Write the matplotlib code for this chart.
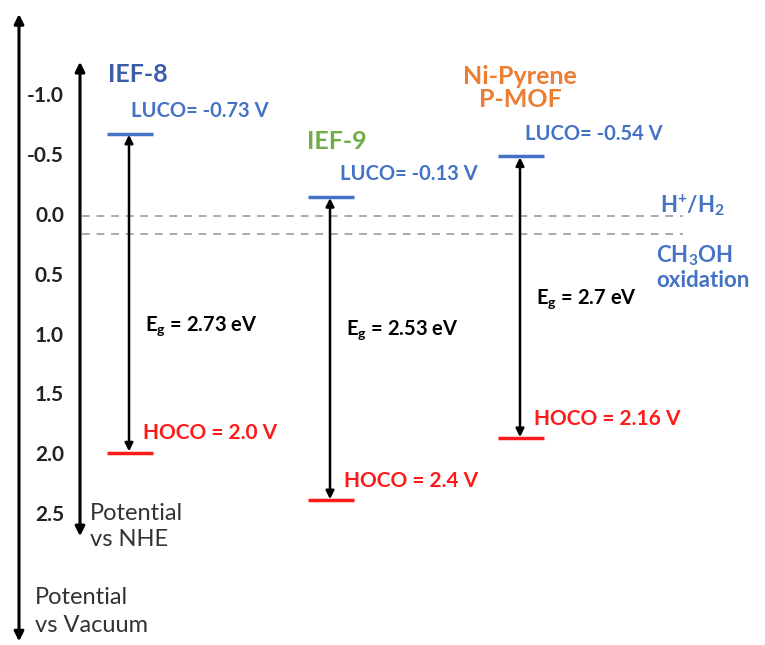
import matplotlib
matplotlib.use("Agg")
import matplotlib.pyplot as plt

plt.rcParams["font.family"] = ["Lato", "DejaVu Sans"]
plt.rcParams["mathtext.default"] = "regular"

# potential axis ticks (V vs NHE)
ticks = [-1.0, -0.5, 0.0, 0.5, 1.0, 1.5, 2.0, 2.5]
tick_labels = ["-1.0", "-0.5", "0.0", "0.5", "1.0", "1.5", "2.0", "2.5"]

# materials and band edges as drawn on the diagram
materials = ["IEF-8", "IEF-9", "Ni-Pyrene\nP-MOF"]
name_colors = ["#3b5ca8", "#70ad47", "#ed7d31"]
luco_drawn = [-0.69, -0.16, -0.50]
hoco_drawn = [1.98, 2.38, 1.86]
luco_labels = ["LUCO= -0.73 V", "LUCO= -0.13 V", "LUCO= -0.54 V"]
hoco_labels = ["HOCO = 2.0 V", "HOCO = 2.4 V", "HOCO = 2.16 V"]
gap_labels = ["E$_g$ = 2.73 eV", "E$_g$ = 2.53 eV", "E$_g$ = 2.7 eV"]
gap_y = [0.92, 0.96, 0.70]

# redox reference levels
ref_levels = [0.0, 0.15]

BLUE = "#4472c4"
RED = "#ff1a1a"

fig = plt.figure(figsize=(7.65, 6.45), dpi=100)
ax = fig.add_axes([0, 0, 1, 1])
ax.set_xlim(0, 765)
# 0 V sits at pixel row 216, 119.5 px per volt
ax.set_ylim((645 - 216) / 119.5, -216 / 119.5)
ax.axis("off")

# outer vacuum axis and inner NHE axis
arrow = dict(arrowstyle="<|-|>", color="black", lw=2.2, mutation_scale=14, shrinkA=0, shrinkB=0)
ax.annotate("", xy=(19, -1.69), xytext=(19, 3.56), arrowprops=arrow)
ax.annotate("", xy=(80, -1.29), xytext=(80, 2.68), arrowprops=arrow)

for t, lab in zip(ticks, tick_labels):
    ax.text(64, t, lab, ha="right", va="center", fontsize=15, fontweight="bold", color="#222222")

ax.text(90, 2.60, "Potential\nvs NHE", ha="left", va="center", fontsize=17,
        color="#333333", linespacing=1.3)
ax.text(35, 3.31, "Potential\nvs Vacuum", ha="left", va="center", fontsize=17,
        color="#333333", linespacing=1.45)

# reference lines
for r in ref_levels:
    ax.plot([82, 683], [r, r], ls=(0, (4, 3.5)), color="#aaaaaa", lw=1.4)
ax.text(660, -0.09, "H$^{+}$/H$_{2}$", ha="left", va="center", fontsize=16,
        fontweight="bold", color=BLUE)
ax.text(656, 0.43, "CH$_{3}$OH\noxidation", ha="left", va="center", fontsize=16,
        fontweight="bold", color=BLUE, linespacing=1.1)

xs = [129, 330, 520]
name_pos = [(108, -1.18, "left"), (307, -0.62, "left"), (520, -1.07, "center")]
luco_x = [131, 340, 525]
for i in range(3):
    x = xs[i]
    ax.plot([x - 22, x + 24], [luco_drawn[i]] * 2, color=BLUE, lw=2.5, solid_capstyle="butt")
    ax.plot([x - 22, x + 24], [hoco_drawn[i]] * 2, color=RED, lw=2.5, solid_capstyle="butt")
    ax.annotate("", xy=(x, luco_drawn[i] + 0.01), xytext=(x, hoco_drawn[i] - 0.01),
                arrowprops=dict(arrowstyle="<|-|>", color="black", lw=1.8,
                                mutation_scale=12, shrinkA=0, shrinkB=0))
    nx, ny, ha = name_pos[i]
    ax.text(nx, ny, materials[i], ha=ha, va="center", fontsize=18, fontweight="bold",
            color=name_colors[i], linespacing=1.0)
    ax.text(luco_x[i], luco_drawn[i] - 0.19, luco_labels[i], ha="left", va="center",
            fontsize=14.5, fontweight="bold", color=BLUE)
    ax.text(x + 14, hoco_drawn[i] - 0.16, hoco_labels[i], ha="left", va="center",
            fontsize=15, fontweight="bold", color=RED)
    ax.text(x + 16, gap_y[i], gap_labels[i], ha="left", va="center",
            fontsize=14.5, fontweight="bold", color="black")

fig.savefig("out.png", dpi=100)
